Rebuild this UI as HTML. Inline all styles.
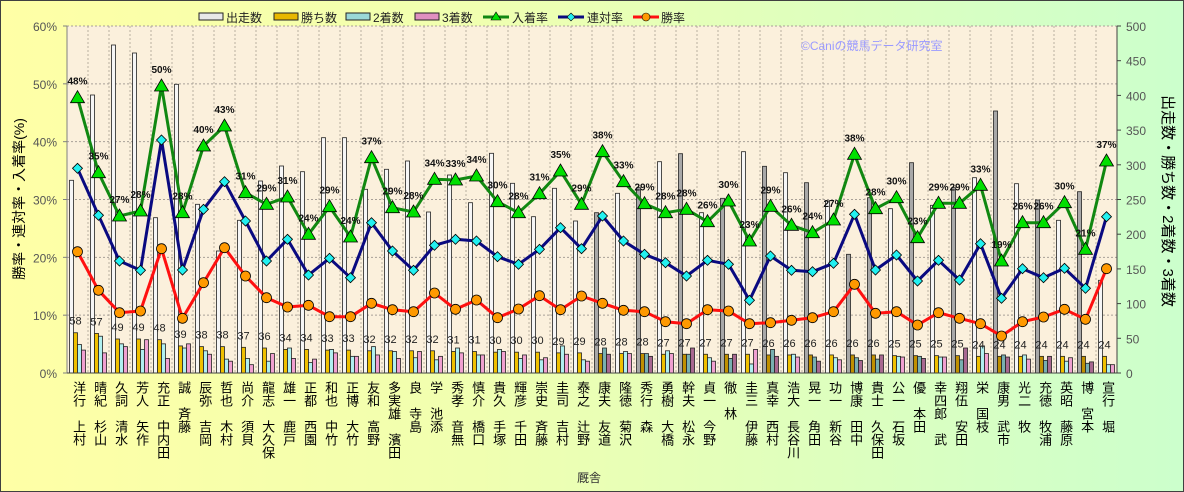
<!DOCTYPE html>
<html><head><meta charset="utf-8">
<style>
html,body{margin:0;padding:0;}
body{width:1184px;height:492px;overflow:hidden;}
#wrap{position:relative;width:1182px;height:490px;border:1px solid #404040;background:linear-gradient(to right,#ffffa6 0%,#f0ffb0 40%,#ccffcc 100%);}
svg{position:absolute;left:0;top:0;}
text{font-family:"Liberation Sans","Noto Sans CJK JP",sans-serif;}
</style></head><body>
<div id="wrap"><svg id="s" width="1182" height="490" xmlns="http://www.w3.org/2000/svg"></svg></div>
<script>
const S=document.getElementById('s');let h='';
const L=66,R=1116,T=25,B=372,W=21;
const names=[["上村","洋行"],["杉山","晴紀"],["清水","久詞"],["矢作","芳人"],["中内田","充正"],["斉藤","誠"],["吉岡","辰弥"],["木村","哲也"],["須貝","尚介"],["大久保","龍志"],["鹿戸","雄一"],["西園","正都"],["中竹","和也"],["大竹","正博"],["高野","友和"],["濱田","多実雄"],["寺島","良"],["池添","学"],["音無","秀孝"],["橋口","慎介"],["手塚","貴久"],["千田","輝彦"],["斉藤","崇史"],["吉村","圭司"],["辻野","泰之"],["友道","康夫"],["菊沢","隆徳"],["森","秀行"],["大橋","勇樹"],["松永","幹夫"],["今野","貞一"],["林","徹"],["伊藤","圭三"],["西村","真幸"],["長谷川","浩大"],["角田","晃一"],["新谷","功一"],["田中","博康"],["久保田","貴士"],["石坂","公一"],["本田","優"],["武","幸四郎"],["安田","翔伍"],["国枝","栄"],["武市","康男"],["牧","光二"],["牧浦","充徳"],["藤原","英昭"],["宮本","博"],["堀","宣行"]];
const gy=[96.7,171.7,215,210,85,211.7,145,125,191.7,203.3,196,233.3,205.7,236,156.7,206.7,211,178.3,179,175,200.7,211.7,192.7,170,203.3,150.7,180.7,202.7,211.7,208.3,220.7,200,240,205.3,224.3,231.7,219,153.3,207.7,196.7,236.7,202.3,202.3,184.3,260,221.7,221.7,201.7,248.3,160];
const gl=[48,35,27,28,50,28,40,43,31,29,31,24,29,24,37,29,28,34,33,34,30,28,31,35,29,38,33,29,28,28,26,30,23,29,26,24,27,38,28,30,23,29,29,33,19,26,26,30,21,37];
const by=[167.3,214.3,260,269.3,139,269,208.3,180.7,220,260,238.3,274,257.3,276.7,221.7,250,269.3,244.3,238.3,240,255.7,263.3,248.3,226.7,247.7,215,240,253.3,261.7,275,259.3,263.3,299.3,255,269.3,270.7,262.3,213.3,269,254,280,259.3,279,242.7,297.3,267.7,276.7,267.3,287.3,215.7];
const ry=[250.7,289.3,311.7,310,247.7,317.3,281.7,246.7,275,296.7,306,304.3,315.7,315.7,302.3,308.7,310.7,292,308.3,299,316.7,308,294.7,308.7,295,302.3,309.3,310.7,320.7,322.7,308.7,310,322.7,321.7,319.3,316.7,310.7,283.3,312.3,310.7,324,311.7,317.3,322.7,335,320.7,316,308.3,318.3,267.7];
const bt=[179.3,94,44,52,216.7,83.3,203.3,250,219.3,180,165,170.7,136.7,136.7,188.3,168.3,160,211,174,201.7,152.3,182.3,215.7,187.3,220,211.7,192.3,186.7,160.7,152.7,211.7,197.3,150.7,165.3,171.7,181.7,200,253.3,196.7,207.7,161.7,204.3,186.7,176.7,110,182.7,199,219.3,190.7,279.3];
const wins=[58,57,49,49,48,39,38,38,37,36,34,34,33,33,32,32,32,32,31,31,30,30,30,29,29,28,28,28,27,27,27,27,27,26,26,26,26,26,26,25,25,25,25,24,24,24,24,24,24,24];
const c2=[41,53,42,34,42,36,32,20,21,17,36,15,34,24,38,31,22,19,36,26,34,21,19,39,19,36,31,28,32,27,22,21,13,34,27,23,22,22,20,24,24,23,19,39,26,26,18,17,14,12];
const c3=[33,29,38,48,21,42,27,17,12,28,21,20,29,24,26,21,31,24,29,26,31,26,22,27,17,27,28,24,28,36,17,27,34,24,23,17,19,18,26,23,21,23,36,28,23,20,24,22,16,12];
const gray=new Set([25,27,29,31,33,35,37,38,40,42,44,46,48]);
const cx=i=>L+W*(i+0.5);
const vy=n=>B-n/500*347;
h+=`<rect x="${L}" y="${T}" width="${R-L}" height="${B-T}" fill="#fbf0dc"/>`;
for(let k=1;k<50;k++){const x=L+W*k;h+=`<line x1="${x}" y1="${T}" x2="${x}" y2="${B}" stroke="#b8b0a0" stroke-width="1" stroke-dasharray="2,2"/>`;}
for(let k=1;k<=6;k++){const y=B-k*347/6;h+=`<line x1="${L}" y1="${y}" x2="${R}" y2="${y}" stroke="#a8a098" stroke-width="1" stroke-dasharray="2,2"/>`;}
h+=`<text x="800" y="49" font-size="12" fill="#9a9aff">©Caniの競馬データ研究室</text>`;
for(let i=0;i<50;i++){const c=cx(i),g=gray.has(i);
 const cols=g?['#a8a8a8','#c09000','#78b0b0','#a86890']:['#f6f6f6','#f0c000','#b0f0f0','#f0a0d0'];
 const tops=[bt[i],vy(wins[i]),vy(c2[i]),vy(c3[i])];
 for(let k=0;k<4;k++){const x=c-8+k*4;h+=`<rect x="${x}" y="${tops[k]}" width="4" height="${B-tops[k]}" fill="${cols[k]}" stroke="#222" stroke-width="0.8"/>`;}
 h+=`<text x="${c-2}" y="${vy(wins[i])-8}" font-size="11" text-anchor="middle" fill="#222">${wins[i]}</text>`;
}
h+=`<line x1="${L}" y1="${T}" x2="${L}" y2="${B}" stroke="#808080"/><line x1="${R}" y1="${T}" x2="${R}" y2="${B}" stroke="#404040"/><line x1="${L}" y1="${B}" x2="${R}" y2="${B}" stroke="#404040"/>`;
for(let k=0;k<=6;k++){const y=B-k*347/6;h+=`<text x="56" y="${y+5}" font-size="12" fill="#555" text-anchor="end">${k*10}%</text><line x1="${L-4}" y1="${y}" x2="${L}" y2="${y}" stroke="#808080"/>`;}
for(let k=0;k<=10;k++){const y=B-k*34.7;h+=`<text x="1125" y="${y+5}" font-size="12" fill="#555">${k*50}</text><line x1="${R}" y1="${y}" x2="${R+4}" y2="${y}" stroke="#404040"/>`;}
const pl=(arr,col)=>`<polyline fill="none" stroke="${col}" stroke-width="3" stroke-linejoin="round" points="${arr.map((y,i)=>cx(i)+','+y).join(' ')}"/>`;
h+=pl(gy,'#118811')+pl(by,'#0a0a80')+pl(ry,'#ff1010');
for(let i=0;i<50;i++){const c=cx(i);
 h+=`<polygon points="${c},${gy[i]-7} ${c-7},${gy[i]+5} ${c+7},${gy[i]+5}" fill="#00e000" stroke="#000" stroke-width="0.8"/>`;
 h+=`<polygon points="${c},${by[i]-5} ${c+5},${by[i]} ${c},${by[i]+5} ${c-5},${by[i]}" fill="#22f0f0" stroke="#000" stroke-width="0.8"/>`;
 h+=`<circle cx="${c}" cy="${ry[i]}" r="5" fill="#ff9900" stroke="#000" stroke-width="0.8"/>`;
 h+=`<text x="${c}" y="${gy[i]-13}" font-size="10" font-weight="bold" text-anchor="middle" fill="#111">${gl[i]}%</text>`;
}
for(let i=0;i<50;i++){const c=cx(i);const t=names[i][1]+'　'+names[i][0];
 h+=`<text x="${c}" y="380" font-size="13" writing-mode="tb" style="writing-mode:vertical-rl;glyph-orientation-vertical:0" fill="#000" dominant-baseline="middle">${t}</text>`;}
h+=`<text x="588" y="481" font-size="12" text-anchor="middle" fill="#333">厩舎</text>`;
h+=`<text transform="translate(23,198) rotate(-90)" font-size="14" text-anchor="middle" fill="#000">勝率・連対率・入着率(%)</text>`;
h+=`<text transform="translate(1162,200) rotate(90)" font-size="15" text-anchor="middle" fill="#000">出走数・勝ち数・2着数・3着数</text>`;
const lb=(x,col,t)=>`<rect x="${x}" y="12" width="24" height="7" fill="${col}" stroke="#222"/><text x="${x+27}" y="21" font-size="12" fill="#222">${t}</text>`;
h+=lb(198,'#e8e8e8','出走数')+lb(273,'#e8b800','勝ち数')+lb(345,'#9ad8d8','2着数')+lb(414,'#e090c0','3着数');
h+=`<line x1="482" y1="16" x2="508" y2="16" stroke="#118811" stroke-width="3"/><polygon points="495,11 490,19 500,19" fill="#00e000" stroke="#000" stroke-width="0.6"/><text x="511" y="21" font-size="12" fill="#222">入着率</text>`;
h+=`<line x1="557" y1="16" x2="583" y2="16" stroke="#0a0a80" stroke-width="3"/><polygon points="570,12 574,16 570,20 566,16" fill="#22f0f0" stroke="#000" stroke-width="0.6"/><text x="586" y="21" font-size="12" fill="#222">連対率</text>`;
h+=`<line x1="632" y1="16" x2="658" y2="16" stroke="#ff1010" stroke-width="3"/><circle cx="645" cy="16" r="4" fill="#ff9900" stroke="#000" stroke-width="0.6"/><text x="660" y="21" font-size="12" fill="#222">勝率</text>`;
S.innerHTML=h;
</script>
</body></html>
